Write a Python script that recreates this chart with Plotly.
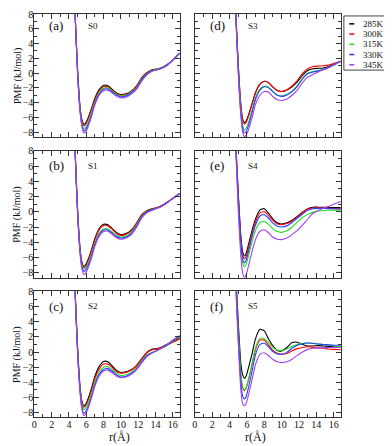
import plotly.graph_objects as go
from plotly.subplots import make_subplots

# distance grid (Å), shared by every panel
r = [4.3, 4.7, 5.0, 5.3, 5.5, 5.7, 5.9, 6.2, 6.6, 7.0, 7.5, 8.0, 8.5, 9.0, 9.5,
     10.0, 10.6, 11.2, 11.8, 12.4, 13.0, 13.6, 14.2, 14.8, 15.4, 16.0, 16.8]

temps = ["285K", "300K", "315K", "330K", "345K"]
colors = ["#000000", "#ff0000", "#22dd22", "#2040ff", "#a040f0"]

# PMF (kJ/mol), one list per temperature
s0_285 = [25, 8.5, 0.5, -4.8, -6.3, -6.9, -6.8, -6.1, -4.8, -3.4, -2.2, -1.65, -1.7, -2.2, -2.7, -2.9, -2.8, -2.45, -1.75, -0.65, 0.05, 0.45, 0.55, 0.8, 1.2, 1.8, 2.7]
s0_300 = [25, 8.5, 0.4, -4.9, -6.5, -7.1, -7.0, -6.3, -5.0, -3.6, -2.4, -1.85, -1.85, -2.3, -2.8, -3.0, -2.9, -2.5, -1.8, -0.7, 0.0, 0.4, 0.5, 0.75, 1.15, 1.8, 2.7]
s0_315 = [25, 8.4, 0.2, -5.1, -6.8, -7.5, -7.4, -6.7, -5.4, -3.9, -2.6, -2.05, -2.0, -2.45, -2.9, -3.1, -3.0, -2.6, -1.95, -0.85, -0.1, 0.35, 0.5, 0.75, 1.15, 1.8, 2.7]
s0_330 = [25, 8.3, 0.0, -5.3, -7.0, -7.8, -7.7, -7.0, -5.7, -4.1, -2.8, -2.2, -2.15, -2.55, -3.0, -3.2, -3.1, -2.7, -2.05, -0.95, -0.15, 0.3, 0.45, 0.7, 1.1, 1.75, 2.7]
s0_345 = [25, 8.2, -0.2, -5.5, -7.2, -8.1, -8.0, -7.3, -5.9, -4.3, -3.0, -2.4, -2.3, -2.7, -3.15, -3.35, -3.25, -2.85, -2.2, -1.1, -0.25, 0.25, 0.45, 0.7, 1.1, 1.75, 2.7]

s1_285 = [25, 8.5, 0.3, -5.0, -6.6, -7.15, -7.0, -6.3, -5.0, -3.5, -2.2, -1.65, -1.7, -2.2, -2.75, -3.0, -2.85, -2.4, -1.5, -0.4, 0.15, 0.4, 0.55, 0.85, 1.3, 1.75, 2.4]
s1_300 = [25, 8.5, 0.2, -5.1, -6.7, -7.3, -7.15, -6.45, -5.15, -3.65, -2.35, -1.8, -1.85, -2.3, -2.85, -3.1, -2.95, -2.5, -1.55, -0.45, 0.1, 0.35, 0.55, 0.85, 1.3, 1.75, 2.4]
s1_315 = [25, 8.4, 0.0, -5.3, -6.9, -7.5, -7.4, -6.8, -5.6, -4.1, -2.8, -2.25, -2.25, -2.65, -3.1, -3.3, -3.15, -2.7, -1.75, -0.6, 0.0, 0.3, 0.5, 0.8, 1.25, 1.75, 2.4]
s1_330 = [25, 8.3, -0.2, -5.5, -7.2, -7.8, -7.7, -7.05, -5.85, -4.3, -3.0, -2.4, -2.4, -2.8, -3.25, -3.45, -3.3, -2.85, -1.9, -0.7, -0.05, 0.25, 0.45, 0.8, 1.25, 1.75, 2.4]
s1_345 = [25, 8.2, -0.4, -5.7, -7.5, -8.2, -8.1, -7.4, -6.1, -4.5, -3.2, -2.6, -2.55, -2.95, -3.4, -3.6, -3.45, -3.0, -2.05, -0.85, -0.15, 0.2, 0.45, 0.75, 1.2, 1.75, 2.4]

s2_285 = [25, 8.6, 0.6, -4.8, -6.5, -7.1, -6.95, -6.2, -4.8, -3.2, -1.9, -1.25, -1.3, -1.85, -2.45, -2.7, -2.6, -2.35, -1.8, -0.9, -0.05, 0.35, 0.45, 0.7, 1.05, 1.45, 1.9]
s2_300 = [25, 8.5, 0.5, -4.9, -6.6, -7.3, -7.15, -6.45, -5.1, -3.5, -2.25, -1.6, -1.6, -2.05, -2.6, -2.8, -2.7, -2.4, -1.85, -0.95, -0.1, 0.3, 0.4, 0.65, 0.95, 1.3, 1.7]
s2_315 = [25, 8.4, 0.3, -5.1, -6.9, -7.6, -7.5, -6.85, -5.55, -3.95, -2.65, -2.0, -1.95, -2.35, -2.85, -3.1, -3.0, -2.7, -2.1, -1.2, -0.4, -0.05, 0.2, 0.55, 0.95, 1.45, 2.0]
s2_330 = [25, 8.3, 0.0, -5.4, -7.3, -8.1, -7.95, -7.25, -5.9, -4.3, -2.95, -2.3, -2.2, -2.55, -3.05, -3.3, -3.2, -2.85, -2.25, -1.35, -0.5, -0.1, 0.2, 0.55, 0.95, 1.5, 2.1]
s2_345 = [25, 8.2, -0.2, -5.6, -7.6, -8.4, -8.25, -7.5, -6.1, -4.5, -3.15, -2.5, -2.4, -2.75, -3.2, -3.4, -3.3, -2.95, -2.35, -1.45, -0.6, -0.15, 0.2, 0.6, 1.05, 1.6, 2.2]

s3_285 = [25, 8.8, 1.2, -4.3, -6.2, -6.7, -6.5, -5.6, -4.1, -2.6, -1.5, -1.1, -1.3, -1.9, -2.35, -2.5, -2.3, -1.85, -1.2, -0.3, 0.35, 0.6, 0.65, 0.7, 0.9, 1.2, 1.6]
s3_300 = [25, 8.8, 1.1, -4.4, -6.4, -6.9, -6.7, -5.75, -4.2, -2.65, -1.5, -1.1, -1.3, -1.9, -2.35, -2.5, -2.25, -1.75, -1.0, -0.05, 0.6, 0.9, 0.95, 1.0, 1.1, 1.3, 1.6]
s3_315 = [25, 8.6, 0.6, -5.0, -7.0, -7.7, -7.5, -6.6, -5.0, -3.3, -2.15, -1.75, -1.9, -2.5, -2.95, -3.1, -2.9, -2.4, -1.7, -0.7, 0.0, 0.2, 0.35, 0.5, 0.75, 1.1, 1.6]
s3_330 = [25, 8.5, 0.4, -5.3, -7.4, -8.1, -7.9, -7.0, -5.3, -3.5, -2.3, -1.85, -2.0, -2.55, -3.0, -3.15, -2.95, -2.5, -1.8, -0.8, -0.1, 0.15, 0.3, 0.5, 0.75, 1.1, 1.6]
s3_345 = [25, 8.3, 0.0, -5.8, -7.9, -8.6, -8.4, -7.6, -6.0, -4.2, -3.0, -2.5, -2.6, -3.2, -3.6, -3.7, -3.5, -3.0, -2.3, -1.3, -0.55, -0.2, 0.15, 0.45, 0.75, 1.1, 1.6]

s4_285 = [25, 9.5, 2.5, -3.2, -5.2, -5.8, -5.5, -4.2, -2.4, -0.9, 0.25, 0.4, -0.2, -0.95, -1.45, -1.6, -1.45, -1.1, -0.6, -0.05, 0.4, 0.6, 0.6, 0.6, 0.55, 0.55, 0.55]
s4_300 = [25, 9.4, 2.2, -3.6, -5.6, -6.2, -5.9, -4.6, -2.8, -1.3, -0.15, 0.0, -0.5, -1.15, -1.6, -1.7, -1.55, -1.2, -0.7, -0.1, 0.35, 0.5, 0.5, 0.5, 0.45, 0.4, 0.4]
s4_315 = [25, 9.0, 1.3, -4.6, -6.6, -7.2, -6.9, -5.7, -3.9, -2.4, -1.4, -1.3, -1.65, -2.25, -2.6, -2.7, -2.5, -2.0, -1.35, -0.75, -0.35, -0.05, 0.1, 0.15, 0.2, 0.2, 0.25]
s4_330 = [25, 9.2, 1.8, -4.0, -6.1, -6.7, -6.4, -5.1, -3.2, -1.7, -0.55, -0.4, -0.85, -1.5, -1.9, -2.0, -1.85, -1.4, -0.85, -0.3, 0.2, 0.4, 0.45, 0.45, 0.4, 0.4, 0.35]
s4_345 = [25, 8.6, 0.3, -5.8, -8.0, -8.6, -8.3, -7.0, -5.2, -3.6, -2.55, -2.4, -2.75, -3.35, -3.6, -3.65, -3.45, -3.0, -2.45, -1.75, -0.95, -0.2, 0.15, 0.45, 0.7, 1.0, 1.35]

s5_285 = [25, 11.0, 4.0, -1.5, -3.0, -3.45, -3.2, -2.0, -0.2, 1.8, 3.0, 2.8, 1.7, 0.8, 0.2, 0.15, 0.6, 1.25, 1.3, 1.0, 0.8, 0.8, 0.85, 0.8, 0.75, 0.7, 0.65]
s5_300 = [25, 10.0, 2.7, -3.0, -4.7, -5.1, -4.8, -3.6, -1.6, 0.4, 1.6, 1.55, 0.9, 0.2, -0.15, -0.3, -0.2, 0.15, 0.45, 0.6, 0.7, 0.65, 0.55, 0.5, 0.4, 0.35, 0.3]
s5_315 = [25, 10.0, 2.8, -2.9, -4.6, -5.0, -4.7, -3.5, -1.5, 0.6, 1.8, 1.75, 1.2, 0.6, 0.25, 0.2, 0.4, 0.75, 1.0, 1.15, 1.2, 1.15, 1.05, 1.0, 0.9, 0.8, 0.7]
s5_330 = [25, 9.6, 2.0, -4.0, -5.8, -6.2, -5.9, -4.6, -2.5, -0.3, 1.0, 1.15, 0.65, 0.05, -0.25, -0.3, -0.05, 0.5, 0.9, 1.1, 1.2, 1.15, 1.05, 1.0, 0.95, 0.9, 0.9]
s5_345 = [25, 9.2, 1.2, -5.0, -6.8, -7.1, -6.8, -5.6, -3.6, -1.6, -0.3, -0.1, -0.5, -1.0, -1.3, -1.4, -1.3, -0.95, -0.45, 0.0, 0.35, 0.5, 0.55, 0.55, 0.6, 0.6, 0.6]

systems = ["S0", "S1", "S2", "S3", "S4", "S5"]
panel_tags = ["(a)", "(b)", "(c)", "(d)", "(e)", "(f)"]
pmf = [
    [s0_285, s0_300, s0_315, s0_330, s0_345],
    [s1_285, s1_300, s1_315, s1_330, s1_345],
    [s2_285, s2_300, s2_315, s2_330, s2_345],
    [s3_285, s3_300, s3_315, s3_330, s3_345],
    [s4_285, s4_300, s4_315, s4_330, s4_345],
    [s5_285, s5_300, s5_315, s5_330, s5_345],
]

# the page keeps an 8px body margin round the figure: the figure is 8px
# smaller than the window and positions below are given in page pixels
PAD = 8
W, H = 392 - PAD, 446 - PAD
FONT = "Liberation Serif, Times New Roman, serif"


def px(xp):
    return (xp - PAD) / W


def py(yp):
    return 1 - (yp - PAD) / H


fig = make_subplots(rows=3, cols=2)

# panel boxes in page pixels (left, right) and (top, bottom)
col_px = [(31.5, 178.5), (193.3, 340.7)]
row_px = [(8, 133), (147, 276), (290, 418)]

for i, sysname in enumerate(systems):
    row, col = i % 3 + 1, i // 3 + 1
    for j, t in enumerate(temps):
        fig.add_trace(go.Scatter(
            x=r, y=pmf[i][j], mode="lines", name=t,
            line=dict(color=colors[j], width=1.1, shape="spline", smoothing=0.6),
            showlegend=False, hovertemplate=sysname + " " + t + "<br>r=%{x} Å<br>%{y} kJ/mol<extra></extra>",
        ), row=row, col=col)

    x0, x1 = col_px[col - 1]
    y0, y1 = row_px[row - 1]
    axis_style = dict(
        dtick=2, tick0=0, ticks="inside", ticklen=5, tickcolor="#333",
        showline=True, linecolor="#333", linewidth=1, mirror="allticks",
        showgrid=False, zeroline=False, ticklabelstandoff=-2,
        tickfont=dict(family=FONT, size=10, color="#111"),
        minor=dict(dtick=1, ticks="inside", ticklen=3, tickcolor="#333", showgrid=False),
    )
    fig.update_xaxes(domain=[px(x0), px(x1)], range=[0, 16.85],
                     showticklabels=(row == 3), row=row, col=col, **axis_style)
    fig.update_yaxes(domain=[py(y1), py(y0)], range=[-8.65, 8],
                     showticklabels=(col == 1), row=row, col=col, **axis_style)

    # panel tag and system name
    ty = 20 if row == 1 else y0 + 15
    fig.add_annotation(x=px(x0 + 13), y=py(ty), xref="paper", yref="paper",
                       text=panel_tags[i], showarrow=False, xanchor="left", yanchor="middle",
                       font=dict(family=FONT, size=13, color="#111"))
    fig.add_annotation(x=px(x0 + 52), y=py(ty), xref="paper", yref="paper",
                       text=sysname, showarrow=False, xanchor="left", yanchor="middle",
                       font=dict(family=FONT, size=9, color="#111"))

# axis titles
for (y0, y1) in row_px:
    fig.add_annotation(x=px(14.5), y=py((y0 + y1) / 2), xref="paper", yref="paper",
                       text="PMF (kJ/mol)", textangle=-90, showarrow=False,
                       xanchor="center", yanchor="middle",
                       font=dict(family=FONT, size=10, color="#111"))
for (x0, x1) in col_px:
    fig.add_annotation(x=px((x0 + x1) / 2), y=py(438), xref="paper", yref="paper",
                       text="r(Å)", showarrow=False, yanchor="middle",
                       font=dict(family=FONT, size=12, color="#111"))

# legend box: frame, short coloured key and label per temperature
fig.add_shape(type="rect", xref="paper", yref="paper",
              x0=px(343.5), x1=px(390), y0=py(65), y1=py(10),
              line=dict(color="#444", width=1), fillcolor="white")
key_y = [18, 28.4, 38.8, 49.2, 59.6]
for c, t, ky in zip(colors, temps, key_y):
    fig.add_shape(type="line", xref="paper", yref="paper",
                  x0=px(349), x1=px(354), y0=py(ky), y1=py(ky),
                  line=dict(color=c, width=1.5))
    fig.add_annotation(x=px(386), y=py(ky), xref="paper", yref="paper",
                       text=t, showarrow=False, xanchor="right", yanchor="middle",
                       font=dict(family=FONT, size=9, color="#111"))

fig.update_layout(
    width=W, height=H,
    margin=dict(l=0, r=0, t=0, b=0),
    paper_bgcolor="white", plot_bgcolor="white",
    font=dict(family=FONT),
    showlegend=False,
)

fig.write_html("out.html")
